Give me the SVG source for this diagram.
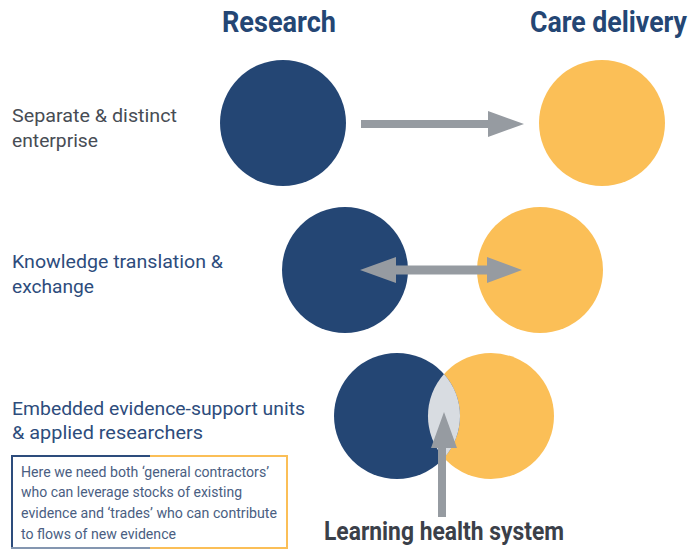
<svg xmlns="http://www.w3.org/2000/svg" width="693" height="550" viewBox="0 0 693 550">
<style>
.hdr{font-family:"Roboto","Liberation Sans",sans-serif;font-weight:bold;font-size:29px;fill:#244674}
.lbl{font-family:"Roboto","Liberation Sans",sans-serif;font-size:19px}
.g{fill:#474c54}
.b{fill:#2d4c7c}
.box{font-family:"Roboto","Liberation Sans",sans-serif;font-size:15px;fill:#4a5e82}
.lhs{font-family:"Roboto","Liberation Sans",sans-serif;font-weight:bold;font-size:25px;fill:#3b4049}
.res{fill:#244674}
.care{fill:#fbbf57}
.arr{fill:#969ba1}
</style>
<rect width="693" height="550" fill="#ffffff"/>
<g id="headers">
<text class="hdr" x="222" y="32" textLength="114" lengthAdjust="spacingAndGlyphs">Research</text>
<text class="hdr" x="687" y="32" text-anchor="end" textLength="157" lengthAdjust="spacingAndGlyphs">Care delivery</text>
</g>
<g id="labels">
<text class="lbl g" x="12" y="122" textLength="165" lengthAdjust="spacingAndGlyphs">Separate &amp; distinct</text>
<text class="lbl g" x="12" y="147" textLength="86" lengthAdjust="spacingAndGlyphs">enterprise</text>
<text class="lbl b" x="12" y="268" textLength="211" lengthAdjust="spacingAndGlyphs">Knowledge translation &amp;</text>
<text class="lbl b" x="12" y="293" textLength="82" lengthAdjust="spacingAndGlyphs">exchange</text>
<text class="lbl b" x="12" y="415" textLength="293" lengthAdjust="spacingAndGlyphs">Embedded evidence-support units</text>
<text class="lbl b" x="12" y="439" textLength="191" lengthAdjust="spacingAndGlyphs">&amp; applied researchers</text>
</g>
<g id="row1-research"><circle class="res" cx="283" cy="123" r="63"/></g>
<g id="row1-care"><circle class="care" cx="602" cy="123" r="63"/></g>
<g id="row2-research"><circle class="res" cx="345" cy="270" r="63"/></g>
<g id="row2-care"><circle class="care" cx="540" cy="270" r="63"/></g>
<g id="row3-care"><circle class="care" cx="491" cy="416" r="63"/></g>
<g id="row3-research"><circle class="res" cx="397" cy="416" r="63"/></g>
<g id="row3-overlap">
<path d="M444,374 A63,63 0 0 1 444,458 A63,63 0 0 1 444,374 Z" fill="#d8dce1"/>
</g>
<g id="connectors">
<polygon class="arr" points="361,120 488,120 488,111 524,124 488,137 488,128 361,128"/>
<polygon class="arr" points="360,270 396,257 396,265.5 487,265.5 487,257 522,270 487,283 487,274.5 396,274.5 396,283"/>
<polygon class="arr" points="438,517 438,448 431,448 444,412 457,448 446,448 446,517"/>
</g>
<g id="lhs-label">
<text class="lhs" x="324" y="540" textLength="240" lengthAdjust="spacingAndGlyphs">Learning health system</text>
</g>
<g id="note-box">
<line x1="11" y1="456" x2="150" y2="456" stroke="#2d4c7c" stroke-width="2"/>
<line x1="150" y1="456" x2="287" y2="456" stroke="#fbbf57" stroke-width="2"/>
<line x1="12" y1="455" x2="12" y2="549" stroke="#2d4c7c" stroke-width="2"/>
<line x1="287" y1="455" x2="287" y2="549" stroke="#fbbf57" stroke-width="2"/>
<line x1="11" y1="548" x2="150" y2="548" stroke="#8496b0" stroke-width="2"/>
<line x1="150" y1="548" x2="287" y2="548" stroke="#fbbf57" stroke-width="2"/>
<text class="box" x="21" y="477" textLength="248" lengthAdjust="spacingAndGlyphs">Here we need both ‘general contractors’</text>
<text class="box" x="21" y="497" textLength="221" lengthAdjust="spacingAndGlyphs">who can leverage stocks of existing</text>
<text class="box" x="21" y="518" textLength="256" lengthAdjust="spacingAndGlyphs">evidence and ‘trades’ who can contribute</text>
<text class="box" x="21" y="539" textLength="155" lengthAdjust="spacingAndGlyphs">to flows of new evidence</text>
</g>
</svg>
